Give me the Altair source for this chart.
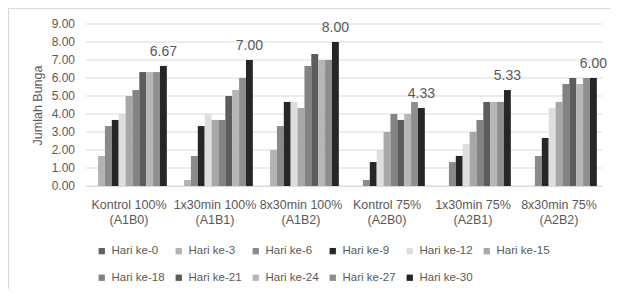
import altair as alt
import pandas as pd

groups = ["Kontrol 100%", "1x30min 100%", "8x30min 100%", "Kontrol 75%", "1x30min 75%", "8x30min 75%"]
codes = ["(A1B0)", "(A1B1)", "(A1B2)", "(A2B0)", "(A2B1)", "(A2B2)"]
series = ["Hari ke-0", "Hari ke-3", "Hari ke-6", "Hari ke-9", "Hari ke-12", "Hari ke-15",
          "Hari ke-18", "Hari ke-21", "Hari ke-24", "Hari ke-27", "Hari ke-30"]
colors = ["#616161", "#b3b3b3", "#8a8a8a", "#262626", "#dedede", "#a8a8a8",
          "#838383", "#5c5c5c", "#b6b6b6", "#8e8e8e", "#262626"]
y_ticks = [0, 1, 2, 3, 4, 5, 6, 7, 8, 9]

# values per group, in series order (Hari ke-0 ... Hari ke-30)
kontrol_100 = [0, 1.67, 3.33, 3.67, 4.00, 5.00, 5.33, 6.33, 6.33, 6.33, 6.67]
x1_100 = [0, 0.33, 1.67, 3.33, 4.00, 3.67, 3.67, 5.00, 5.33, 6.00, 7.00]
x8_100 = [0, 2.00, 3.33, 4.67, 4.67, 4.33, 6.67, 7.33, 7.00, 7.00, 8.00]
kontrol_75 = [0, 0, 0.33, 1.33, 2.00, 3.00, 4.00, 3.67, 4.00, 4.67, 4.33]
x1_75 = [0, 0, 1.33, 1.67, 2.33, 3.00, 3.67, 4.67, 4.67, 4.67, 5.33]
x8_75 = [0, 0, 1.67, 2.67, 4.33, 4.67, 5.67, 6.00, 5.67, 6.00, 6.00]
all_vals = [kontrol_100, x1_100, x8_100, kontrol_75, x1_75, x8_75]

labels = [g + "|" + c for g, c in zip(groups, codes)]
rows = []
for lab, vals in zip(labels, all_vals):
    for s, v in zip(series, vals):
        rows.append({"grp": lab, "series": s, "value": v})
df = pd.DataFrame(rows)
tick_df = pd.DataFrame({"value": y_ticks})

FONT = "Liberation Sans"
TXT = "#595959"
GRID = "#D9D9D9"

x_enc = alt.X("grp:N", sort=labels, title=None,
              scale=alt.Scale(paddingInner=0.12, paddingOuter=0.06),
              axis=alt.Axis(labelExpr="split(datum.label, '|')", labelAngle=0,
                            labelFontSize=12.5, labelColor=TXT, labelFont=FONT,
                            labelLineHeight=15, labelPadding=12, tickSize=0,
                            labelOverlap=False,
                            domainColor=GRID, domainWidth=1, grid=False))
y_axis = alt.Axis(labels=False, ticks=False, domain=False, grid=False,
                  titleFont=FONT, titleFontSize=12.5, titleColor=TXT,
                  titleFontWeight="normal", titlePadding=42)
y_scale = alt.Scale(domain=[0, 9], nice=False)
y_enc = alt.Y("value:Q", title="Jumlah Bunga", scale=y_scale, axis=y_axis)
xoff = alt.XOffset("series:N", sort=series, scale=alt.Scale(paddingInner=0, paddingOuter=0))

grid = alt.Chart(tick_df).mark_rule(color=GRID, strokeWidth=1).encode(y=y_enc)

ylabels = alt.Chart(tick_df).mark_text(
    align="right", baseline="middle", dx=-11, font=FONT, fontSize=12, color=TXT
).encode(y=y_enc, x=alt.value(0), text=alt.Text("value:Q", format=".2f"))

bars = alt.Chart(df).mark_bar().encode(
    x=x_enc, y=y_enc, xOffset=xoff,
    color=alt.Color("series:N", sort=series,
                    scale=alt.Scale(domain=series, range=colors),
                    legend=alt.Legend(title=None, orient="none", legendX=10, legendY=221,
                                      direction="horizontal", columns=6, gridAlign="each",
                                      symbolType="square", symbolSize=40, symbolStrokeWidth=0,
                                      labelFont=FONT, labelFontSize=11.5, labelColor=TXT,
                                      labelOffset=4, columnPadding=8, rowPadding=14,
                                      padding=0)),
)

text = alt.Chart(df).transform_filter(alt.datum.series == "Hari ke-30").mark_text(
    baseline="bottom", dy=-7, font=FONT, fontSize=14, color=TXT
).encode(x=x_enc, y=y_enc, xOffset=xoff,
         text=alt.Text("value:Q", format=".2f"))

border_left = alt.Chart(df).mark_rule(color=GRID, strokeWidth=1).encode(
    x=alt.value(-77.5), y=alt.value(-15.5), y2=alt.value(300))
border_top = alt.Chart(df).mark_rule(color=GRID, strokeWidth=1).encode(
    x=alt.value(-77.5), x2=alt.value(540), y=alt.value(-15.5))

chart = alt.layer(grid, ylabels, bars, text, border_left, border_top).properties(
    width=516, height=162,
    autosize=alt.AutoSizeParams(type="none"),
    padding={"left": 78, "top": 16, "right": 8, "bottom": 103},
    background="white",
).configure_view(stroke=None)

chart.save("out.html", embed_options={"renderer": "svg", "actions": False})
